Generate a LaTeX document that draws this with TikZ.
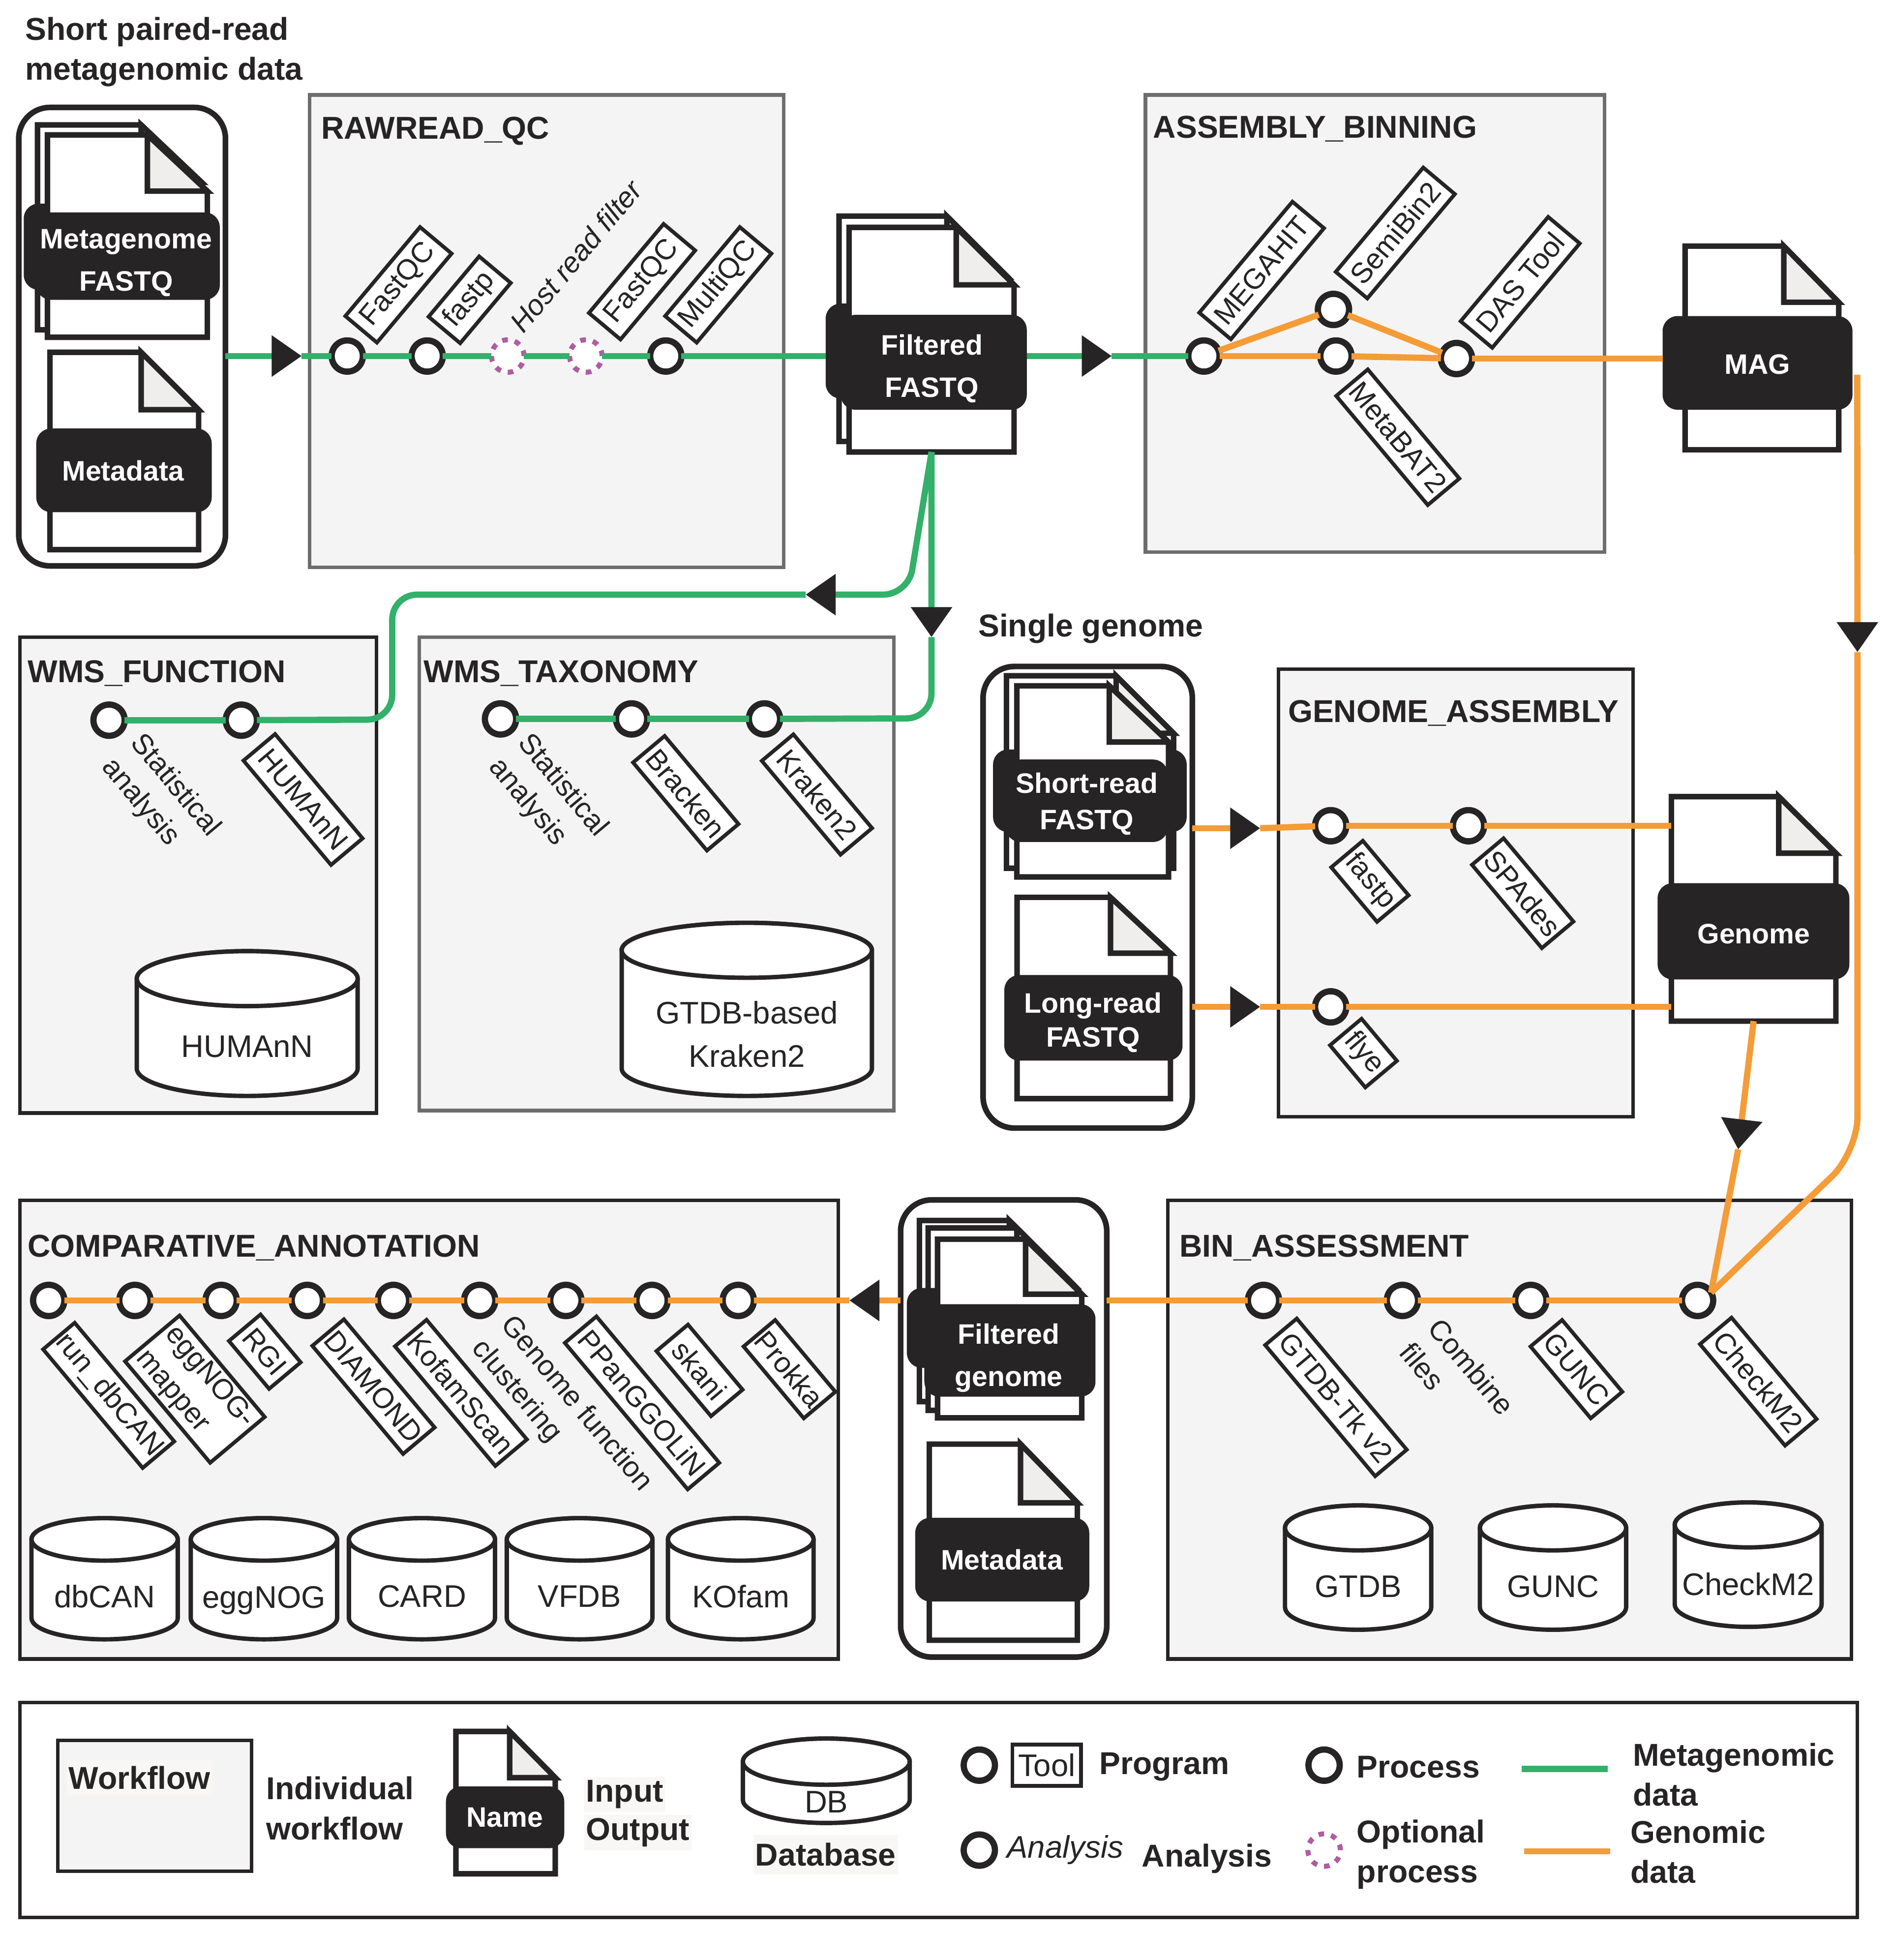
\documentclass[tikz,border=0pt]{standalone}
\usepackage{fontspec}
\setmainfont{Liberation Sans}
\usetikzlibrary{arrows.meta,fit,calc}
\definecolor{dark}{HTML}{262425}
\definecolor{gline}{HTML}{33B06A}
\definecolor{oline}{HTML}{F49C37}
\definecolor{purp}{HTML}{B05CA0}
\definecolor{panelbg}{HTML}{F4F4F4}
\definecolor{foldbg}{HTML}{EFEEEC}
\definecolor{softbg}{HTML}{F8F7F5}
\definecolor{greyline}{HTML}{6D6D6D}
\newcommand{\fbold}{\fontsize{25.3}{32}\selectfont\bfseries}
\newcommand{\freg}{\fontsize{25}{34.5}\selectfont}
\newcommand{\ftool}{\fontsize{23}{30}\selectfont}
\tikzset{
  panel/.style={draw=dark,line width=2.8pt,fill=panelbg,inner sep=0pt,outer sep=0pt},
  greypanel/.style={panel,draw=greyline},
  group/.style={draw=dark,line width=4.5pt,fill=white,rounded corners=25pt,inner sep=0pt,outer sep=0pt},
  ptitle/.style={anchor=west,inner sep=0pt,text=dark,font=\fbold},
  legtext/.style={anchor=west,inner sep=0pt,text=dark,font=\fbold,align=left},
  softtext/.style={legtext,fill=softbg,inner xsep=1.5pt,minimum height=28pt},
  blk/.style={fill=dark,rounded corners=12pt,inner sep=0pt,outer sep=0pt},
  blktext/.style={text=white,inner sep=0pt,font=\fontsize{22.5}{34}\selectfont\bfseries,align=center},
  proc/.style={circle,draw=dark,fill=white,line width=5pt,minimum size=25pt,inner sep=0pt,outer sep=0pt},
  optproc/.style={circle,draw=purp,fill=white,line width=4pt,minimum size=26pt,inner sep=0pt,outer sep=0pt,dash pattern=on 4.5pt off 5.7pt},
  tool/.style={draw=dark,fill=white,line width=3pt,inner sep=0pt,minimum height=33pt,font=\ftool,text=dark,align=left,outer sep=0pt},
  anatext/.style={font=\ftool,text=dark,align=left,inner sep=0pt},
  dbtext/.style={font=\freg,text=dark,align=center,inner sep=0pt},
  glink/.style={draw=gline,line width=5pt},
  olink/.style={draw=oline,line width=5pt},
  arrowtip/.style={-{Triangle[length=24pt,width=32pt,color=dark]}},
  docline/.style={draw=dark,line width=4.4pt,line join=miter},
  ghost/.style={inner sep=0pt,outer sep=0pt},
}
\newcommand{\wfbox}[6]{\node[#6,fit={(#2,#3)(#4,#5)}] (#1) {};}
% page: x0 y0 x1 y1 foldx foldy
\newcommand{\docpage}[6]{%
  \path[docline,fill=white] (#1,#2) -- (#5,#2) -- (#3,#6) -- (#3,#4) -- (#1,#4) -- cycle;
  \path[docline,fill=foldbg] (#5,#2) -- (#5,#6) -- (#3,#6) -- cycle;}
% black label: name x0 y0 x1 y1 textx texty text
\newcommand{\blab}[8]{%
  \node[blk,fit={(#2,#3)(#4,#5)}] (#1) {};
  \node[blktext] (#1t) at (#6,#7) {#8};}
% database: name x0 y0 x1 y1 ry text ytext
\newcommand{\dbase}[8]{%
  \pgfmathsetmacro{\rx}{(#4-#2)/2-1.7}
  \pgfmathsetmacro{\cx}{(#2+#4)/2}
  \pgfmathsetmacro{\xa}{#2+1.7}
  \pgfmathsetmacro{\xb}{#4-1.7}
  \pgfmathsetmacro{\ya}{#3+1.7+#6}
  \pgfmathsetmacro{\yb}{#5-1.7-#6}
  \path[draw=dark,line width=3.5pt,fill=white] (\xa,\ya) -- (\xa,\yb) arc[start angle=180,end angle=360,x radius=\rx pt,y radius=#6 pt] -- (\xb,\ya) arc[start angle=0,end angle=180,x radius=\rx pt,y radius=#6 pt] -- cycle;
  \path[draw=dark,line width=3.5pt,fill=white] (\cx,\ya) ellipse[x radius=\rx pt,y radius=#6 pt];
  \node[dbtext] (#1) at (\cx,#8) {#7};}
\begin{document}
\begin{tikzpicture}[x=1pt,y=-1pt]
\useasboundingbox (0,0) rectangle (1515.4,1569);
\fill[white] (0,0) rectangle (1515.4,1569);

% ---------- panels
\wfbox{pRaw}{248}{76}{627.5}{454}{greypanel}
\wfbox{pAsm}{917}{76}{1284.5}{442}{greypanel}
\wfbox{pFun}{16}{510}{301.5}{891}{panel}
\wfbox{pTax}{335.5}{510}{715.5}{889}{greypanel}
\wfbox{pGen}{1023.5}{535.5}{1307.5}{894}{panel}
\wfbox{pCmp}{16}{961}{671}{1328}{panel}
\wfbox{pBin}{935}{961}{1482}{1328}{panel}
\wfbox{pLeg}{16}{1363}{1487}{1535}{panel,fill=white}

\node[ptitle] (tRaw) at (257,105) {RAWREAD\_QC};
\node[ptitle] (tAsm) at (923,103) {ASSEMBLY\_BINNING};
\node[ptitle] (tFun) at (22,539) {WMS\_FUNCTION};
\node[ptitle] (tTax) at (339,539) {WMS\_TAXONOMY};
\node[ptitle] (tGen) at (1031,571) {GENOME\_ASSEMBLY};
\node[ptitle] (tCmp) at (22,999) {COMPARATIVE\_ANNOTATION};
\node[ptitle] (tBin) at (944,999) {BIN\_ASSESSMENT};
\node[legtext] (tShort) at (20,41.5) {Short paired-read\\metagenomic data};
\node[ptitle] (tSingle) at (783,503) {Single genome};

% ---------- input groups
\wfbox{gMeta}{15}{86}{180.5}{453}{group}
\wfbox{gSingle}{787}{533.5}{954.5}{903}{group}
\wfbox{gFilt}{721}{960.5}{886}{1326.5}{group}

% ---------- documents with their black labels
\docpage{30}{100}{161.5}{264}{113}{146}
\node[blk,fit={(19,163)(160,232)}] (lMetaB) {};
\docpage{38}{108}{166}{270}{118}{153}
\node[ghost,fit={(38,108)(166,270)}] (dMeta) {};
\blab{lMeta}{29}{170}{176}{240}{101}{210.5}{Metagenome\\FASTQ}
\docpage{40}{282}{159}{440}{113}{328}
\blab{lMdata}{29}{343}{169.5}{410}{98.6}{377}{Metadata}

\docpage{671.7}{173}{807}{353.4}{758}{222}
\node[blk,fit={(661,243)(810,319)}] (lFiltB) {};
\docpage{679.7}{182}{811.8}{361.8}{765.5}{228}
\node[ghost,fit={(679.7,182)(811.8,361.8)}] (dFilt) {};
\blab{lFilt}{673}{252}{822}{328}{746}{295}{Filtered\\FASTQ}

\docpage{1349}{197}{1472}{360}{1428}{242}
\node[ghost,fit={(1349,197)(1472,360)}] (dMag) {};
\blab{lMag}{1331}{253}{1483}{328}{1407}{291.5}{MAG}

\docpage{805.7}{541}{939.5}{695}{893.5}{587}
\node[blk,fit={(795,600)(950,666)}] (lShortB) {};
\docpage{814}{549}{935.5}{702}{888}{594}
\blab{lShort}{805}{608}{935}{674}{870}{643.5}{Short-read\\[-5pt]FASTQ}
\docpage{814.2}{718.3}{937}{879.5}{889}{763}
\blab{lLong}{804}{780.5}{946.7}{849}{875}{818.5}{Long-read\\[-6.5pt]FASTQ}

\docpage{1338}{637.7}{1469.7}{817.4}{1424}{683}
\node[ghost,fit={(1338,637.7)(1469.7,817.4)}] (dGen) {};
\blab{lGen}{1327}{707}{1480.5}{784}{1404}{747.5}{Genome}

\docpage{736}{977}{856}{1122}{808}{1025}
\docpage{743}{983}{861}{1129}{814}{1030}
\node[blk,fit={(726,1031)(860,1095)}] (lFgenB) {};
\docpage{750.5}{992}{866}{1135}{821}{1036}
\blab{lFgen}{740}{1044}{877}{1118}{807.6}{1087}{Filtered\\genome}
\docpage{744}{1156}{862.5}{1313}{817}{1203}
\blab{lMeta2}{732.7}{1215}{872}{1282}{802}{1248.5}{Metadata}

% ---------- process nodes
\node[proc] (r1) at (278,285) {};
\node[proc] (r2) at (342,285) {};
\node[optproc] (r3) at (406.5,285) {};
\node[optproc] (r4) at (469,285) {};
\node[proc] (r5) at (533,285) {};
\node[proc] (a1) at (963.8,285) {};
\node[proc] (a2) at (1067.5,247.7) {};
\node[proc] (a3) at (1069.5,285) {};
\node[proc] (a4) at (1166,287) {};
\node[proc] (f1) at (87.3,576.5) {};
\node[proc] (f2) at (193.2,576.5) {};
\node[proc] (x1) at (400.7,575.5) {};
\node[proc] (x2) at (505.6,575.5) {};
\node[proc] (x3) at (612,575.5) {};
\node[proc] (g1) at (1065.3,661) {};
\node[proc] (g2) at (1175.6,661) {};
\node[proc] (g3) at (1065.3,806) {};
\node[proc] (c1) at (39,1041) {};
\node[proc] (c2) at (108,1041) {};
\node[proc] (c3) at (177,1041) {};
\node[proc] (c4) at (246,1041) {};
\node[proc] (c5) at (315,1041) {};
\node[proc] (c6) at (384,1041) {};
\node[proc] (c7) at (453,1041) {};
\node[proc] (c8) at (522,1041) {};
\node[proc] (c9) at (591,1041) {};
\node[proc] (b1) at (1011.5,1041) {};
\node[proc] (b2) at (1122.7,1041) {};
\node[proc] (b3) at (1225.5,1041) {};
\node[proc] (b4) at (1359,1041) {};

% ---------- free ends and arrow tips
\coordinate (tip1) at (241.5,285);
\coordinate (tip2) at (890,285);
\coordinate (tip3) at (645,476);
\coordinate (tip4) at (745.7,510);
\coordinate (tip5) at (1487,522);
\coordinate (tip6) at (1008.8,663);
\coordinate (tip7) at (1008.8,806);
\coordinate (tip8) at (1391.5,920);
\coordinate (tip9) at (680,1041);
\coordinate (bendA) at (727,476);
\coordinate (bendB) at (314,476);
\coordinate (bendC) at (314,576);
\coordinate (bendD) at (745.7,575);
\coordinate (bendE) at (1487,922);
\coordinate (magOut) at (1486.8,300);

% ---------- green connectors
\draw[glink,arrowtip] (gMeta.east |- tip1) -- (tip1);
\draw[glink] (tip1) -- (r1);
\draw[glink] (r1) -- (r2);
\draw[glink] (r2) -- (r3);
\draw[glink] (r3) -- (r4);
\draw[glink] (r4) -- (r5);
\draw[glink] (r5) -- (lFiltB.west |- r5);
\draw[glink,arrowtip] (lFilt.east |- tip2) -- (tip2);
\draw[glink] (tip2) -- (a1);
\draw[glink,arrowtip] (dFilt.south) -- (tip4);
\draw[glink,rounded corners=20pt] (tip4) -- (bendD) -- (x3);
\draw[glink] (x3) -- (x2);
\draw[glink] (x2) -- (x1);
\draw[glink,rounded corners=20pt,arrowtip] (dFilt.south) -- (bendA) -- (tip3);
\draw[glink,rounded corners=20pt] (tip3) -- (bendB) -- (bendC) -- (f2);
\draw[glink] (f2) -- (f1);

% ---------- orange connectors
\draw[olink] (a1) -- (a2);
\draw[olink] (a2) -- (a4);
\draw[olink] (a1) -- (a3);
\draw[olink] (a3) -- (a4);
\draw[olink] (a4) -- (lMag.west |- a4);
\draw[olink,arrowtip] (magOut) -- (tip5);
\draw[olink,rounded corners=28pt] (tip5) -- (bendE) -- (b4.30);
\draw[olink,arrowtip] (gSingle.east |- tip6) -- (tip6);
\draw[olink] (tip6) -- (g1);
\draw[olink] (g1) -- (g2);
\draw[olink] (g2) -- (dGen.west |- g2);
\draw[olink,arrowtip] (gSingle.east |- tip7) -- (tip7);
\draw[olink] (tip7) -- (g3);
\draw[olink] (g3) -- (dGen.west |- g3);
\draw[olink,arrowtip] (dGen.south) -- (tip8);
\draw[olink] (tip8) -- (b4.30);
\draw[olink] (b4) -- (b3);
\draw[olink] (b3) -- (b2);
\draw[olink] (b2) -- (b1);
\draw[olink] (b1) -- (gFilt.east |- b1);
\draw[olink,arrowtip] (gFilt.west |- tip9) -- (tip9);
\draw[olink] (tip9) -- (c9);
\draw[olink] (c9) -- (c8);
\draw[olink] (c8) -- (c7);
\draw[olink] (c7) -- (c6);
\draw[olink] (c6) -- (c5);
\draw[olink] (c5) -- (c4);
\draw[olink] (c4) -- (c3);
\draw[olink] (c3) -- (c2);
\draw[olink] (c2) -- (c1);

% ---------- tool labels
\node[tool,rotate=50,minimum width=93pt] (tFQ1) at (319,228) {FastQC};
\node[tool,rotate=50,minimum width=63pt] (tFP1) at (376,240) {fastp};
\node[anatext,font=\ftool\itshape,rotate=50] (tHost) at (461,205) {Host read filter};
\node[tool,rotate=50,minimum width=93pt] (tFQ2) at (514,225.5) {FastQC};
\node[tool,rotate=50,minimum width=93pt] (tMQ) at (575,228) {MultiQC};
\node[tool,rotate=50,minimum width=116pt] (tMH) at (1010,216.5) {MEGAHIT};
\node[tool,rotate=50,minimum width=109pt] (tSB) at (1117,186.5) {SemiBin2};
\node[tool,rotate=50,minimum width=109pt] (tDT) at (1217,226) {DAS Tool};
\node[tool,rotate=-50,minimum width=114pt] (tMB) at (1119,350) {MetaBAT2};
\node[anatext,rotate=-50] (tSt1) at (128.5,638.7) {Statistical\\analysis};
\node[tool,rotate=-50,minimum width=109pt] (tHM) at (242.6,640) {HUMAnN};
\node[anatext,rotate=-50] (tSt2) at (438.5,638.7) {Statistical\\analysis};
\node[tool,rotate=-50,minimum width=92pt] (tBr) at (549,635) {Bracken};
\node[tool,rotate=-50,minimum width=98pt] (tKr) at (654,636) {Kraken2};
\node[tool,rotate=-50,minimum width=57pt] (tFP2) at (1096.7,705.5) {fastp};
\node[tool,rotate=-50,minimum width=87pt] (tSP) at (1219,715) {SPAdes};
\node[tool,rotate=-50,minimum width=44pt] (tFl) at (1091.5,843) {flye};
\node[tool,rotate=-50,minimum width=124pt] (tRD) at (87,1117) {run\_dbCAN};
\node[tool,rotate=-50,minimum width=106pt,minimum height=57pt] (tEN) at (156,1112) {eggNOG-\\mapper};
\node[tool,rotate=-50,minimum width=50pt] (tRG) at (212,1082) {RGI};
\node[tool,rotate=-50,minimum width=113pt] (tDM) at (299,1110) {DIAMOND};
\node[tool,rotate=-50,minimum width=125pt] (tKS) at (369,1115) {KofamScan};
\node[anatext,rotate=-50] (tGF) at (449.5,1133.6) {Genome function\\clustering};
\node[tool,rotate=-50,minimum width=153pt] (tPP) at (514,1123) {PPanGGOLiN};
\node[tool,rotate=-50,minimum width=68pt] (tSK) at (560,1097) {skani};
\node[tool,rotate=-50,minimum width=75pt] (tPK) at (632,1096) {Prokka};
\node[tool,rotate=-50,minimum width=137pt] (tGT) at (1069.5,1118.6) {GTDB-Tk v2};
\node[anatext,rotate=-50] (tCF) at (1166.5,1103.6) {Combine\\files};
\node[tool,rotate=-50,minimum width=75pt] (tGU) at (1262,1096) {GUNC};
\node[tool,rotate=-50,minimum width=106pt] (tCM) at (1407.6,1106) {CheckM2};

% ---------- databases
\dbase{dbH}{107.8}{759.7}{288}{879}{22}{HUMAnN}{838}
\dbase{dbK}{496}{737}{699.7}{879}{22}{GTDB-based\\Kraken2}{828}
\dbase{db1}{23.5}{1213.6}{144}{1314}{17}{dbCAN}{1278}
\dbase{db2}{151}{1213.6}{271.6}{1314}{17}{eggNOG}{1281}
\dbase{db3}{277.6}{1213.6}{398}{1314}{17}{CARD}{1278}
\dbase{db4}{404}{1213.6}{524}{1314}{17}{VFDB}{1278}
\dbase{db5}{533}{1213.6}{653}{1314}{17}{KOfam}{1278}
\dbase{db6}{1027}{1203.4}{1147.5}{1306.3}{18}{GTDB}{1270}
\dbase{db7}{1183}{1203.4}{1303.5}{1306.3}{18}{GUNC}{1270}
\dbase{db8}{1339}{1201}{1460}{1304}{18}{CheckM2}{1268}

% ---------- legend
\wfbox{legW}{46.3}{1393.3}{201.3}{1498}{panel}
\node[softtext] (legWt) at (53.4,1423) {Workflow};
\node[legtext] (legWd) at (213,1447.5) {Individual\\workflow};
\docpage{365}{1386}{444.5}{1500}{408}{1423}
\blab{legD}{357}{1430}{451.7}{1479.5}{404}{1455}{Name}
\node[softtext] (legIn) at (467.5,1436.5) {Input};
\node[softtext] (legOut) at (467.5,1467) {Output};
\dbase{legDB}{593}{1390}{730}{1461}{18.5}{DB}{1442.5}
\node[softtext,anchor=center,minimum height=32pt] (legDBt) at (661,1484.5) {Database};
\node[proc] (legP1) at (784,1413) {};
\node[draw=dark,fill=white,line width=3pt,inner sep=0pt,outer sep=0pt,font=\freg,text=dark,minimum width=55pt,minimum height=33pt] (legTool) at (838,1413) {Tool};
\node[legtext] (legProg) at (880,1414.5) {Program};
\node[proc] (legP2) at (784,1481) {};
\node[font=\freg\itshape,text=dark,inner sep=0pt,anchor=west] (legAn) at (806,1481) {Analysis};
\node[legtext] (legAnB) at (914,1488) {Analysis};
\node[proc] (legP3) at (1060,1413) {};
\node[legtext] (legPr) at (1086,1414.5) {Process};
\node[optproc] (legP4) at (1060,1481) {};
\node[legtext] (legOpt) at (1086,1484.5) {Optional\\process};
\coordinate (legG1) at (1218,1416);
\coordinate (legG2) at (1287,1416);
\draw[glink] (legG1) -- (legG2);
\node[legtext] (legMet) at (1307,1420.5) {Metagenomic\\data};
\coordinate (legO1) at (1220,1482);
\coordinate (legO2) at (1289,1482);
\draw[olink] (legO1) -- (legO2);
\node[legtext] (legGen) at (1305,1482.5) {Genomic\\data};
\end{tikzpicture}
\end{document}
